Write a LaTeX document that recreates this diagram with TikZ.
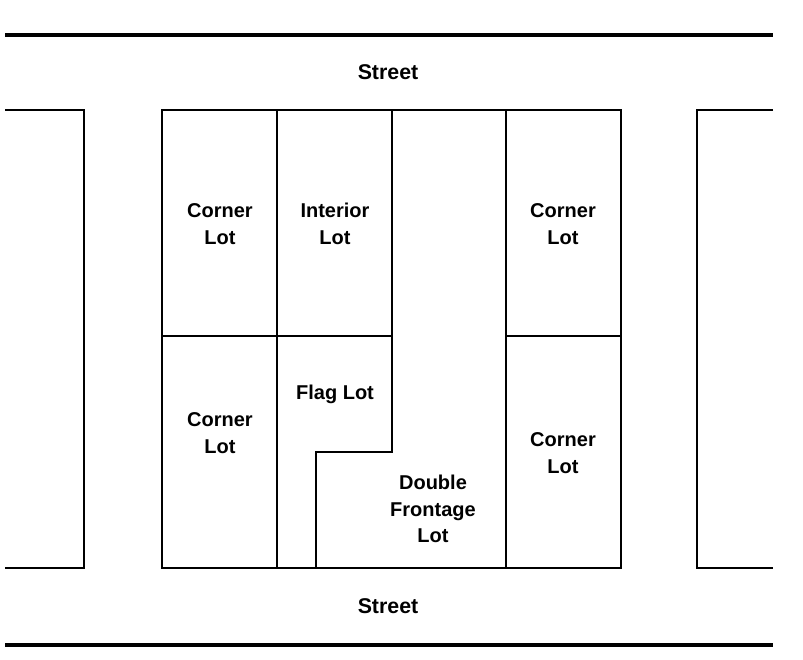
\documentclass[tikz,border=0pt]{standalone}
\usepackage{fontspec}
\setmainfont{Liberation Sans}
\usepackage{tikz}
\usetikzlibrary{calc}

\begin{document}
\begin{tikzpicture}[x=0.75pt,y=-0.75pt]
    % Styles for lot labels and lines
    \tikzset{
      lotlabel/.style={align=center, font=\fontsize{15}{20}\selectfont\bfseries, inner sep=0pt},
      streetlabel/.style={font=\fontsize{16}{20}\selectfont\bfseries, inner sep=0pt},
      lotline/.style={line width=1.8pt, line join=miter},
      streetline/.style={line width=2.6pt}
    }
    \useasboundingbox (0,0) rectangle (803,660);

    % Street edges
    \draw[streetline] (5,35) -- (773,35);
    \draw[streetline] (5,645) -- (773,645);

    % Neighbouring blocks
    \draw[lotline] (5,110) -- (84,110) -- (84,568) -- (5,568);
    \draw[lotline] (773,110) -- (697,110) -- (697,568) -- (773,568);

    % Central block and lot lines
    \draw[lotline] (162,110) rectangle (621,568);
    \draw[lotline] (277,110) -- (277,568);
    \draw[lotline] (392,110) -- (392,452) -- (316,452) -- (316,568);
    \draw[lotline] (506,110) -- (506,568);
    \draw[lotline] (162,336) -- (392,336);
    \draw[lotline] (506,336) -- (621,336);

    % Labels
    \node[streetlabel] (streetTop) at (388,72) {Street};
    \node[streetlabel] (streetBot) at (388,606) {Street};
    \node[lotlabel] (cornerNW) at (220,224) {Corner\\Lot};
    \node[lotlabel] (interior) at (335,224) {Interior\\Lot};
    \node[lotlabel] (cornerNE) at (563,224) {Corner\\Lot};
    \node[lotlabel] (cornerSW) at (220,433) {Corner\\Lot};
    \node[lotlabel] (flag) at (335,394) {Flag Lot};
    \node[lotlabel] (cornerSE) at (563,453) {Corner\\Lot};
    \node[lotlabel] (double) at (433,509) {Double\\Frontage\\Lot};

\end{tikzpicture}
\end{document}
